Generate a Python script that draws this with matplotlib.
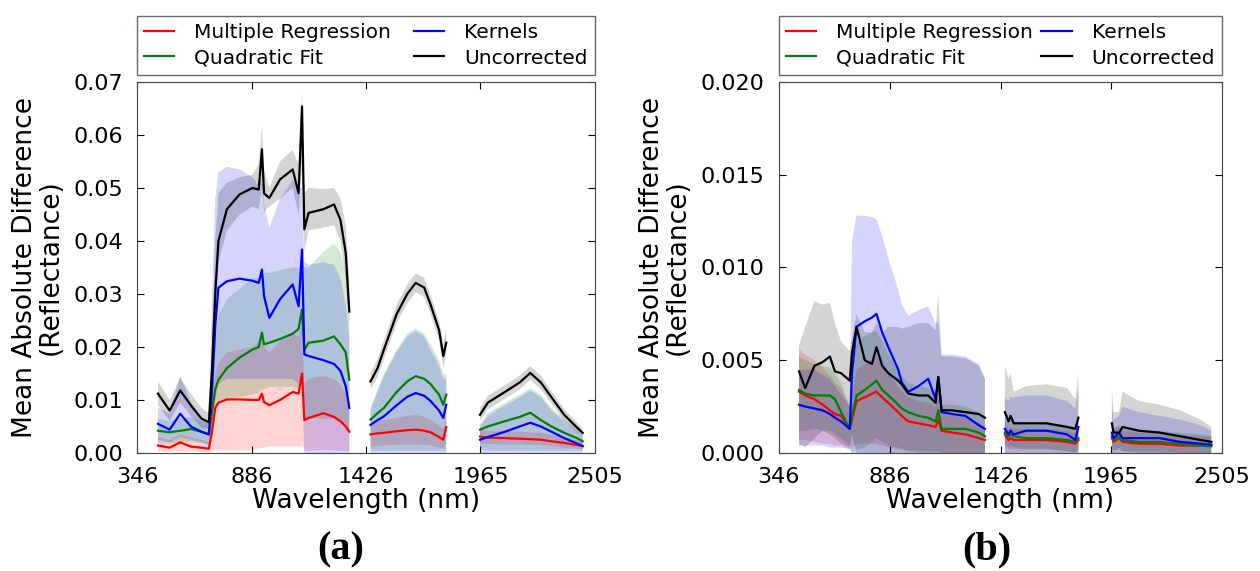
import numpy as np
import matplotlib
matplotlib.use('Agg')
from matplotlib import pyplot as plt

nan = np.nan

# ---------------- panel (a) data ----------------
wl_a = [445, 500, 550, 600, 650, 685, 700, 715, 730, 770, 830, 890, 920, 935, 945, 970, 1020, 1080, 1108, 1124,
        1135, 1155, 1225, 1275, 1305, 1330, 1347, 1400,
        1447, 1480, 1510, 1570, 1620, 1660, 1700, 1730, 1770, 1790, 1804, 1880,
        1963, 2000, 2080, 2150, 2200, 2250, 2300, 2360, 2420, 2447]

a_red = [0.0014, 0.0010, 0.0020, 0.0012, 0.0010, 0.0008, 0.0040, 0.0085, 0.0095, 0.0101, 0.0101, 0.0100, 0.0100, 0.0112,
         0.0096, 0.0090, 0.0100, 0.0115, 0.0112, 0.0150, 0.0062, 0.0066, 0.0075, 0.0068, 0.0060, 0.0050, 0.0040, nan,
         0.0035, 0.0037, 0.0038, 0.0041, 0.0043, 0.0044, 0.0042, 0.0039, 0.0030, 0.0025, 0.0049, nan,
         0.0031, 0.0029, 0.0028, 0.0027, 0.0026, 0.0025, 0.0022, 0.0019, 0.0015, 0.0013]
a_red_lo = [0.0002, 0.0002, 0.0003, 0.0002, 0.0002, 0.0001, 0.0005, 0.0005, 0.0005, 0.0005, 0.0005, 0.0005, 0.0008, 0.0010,
            0.0010, 0.0012, 0.0012, 0.0012, 0.0012, 0.0014, 0.0005, 0.0005, 0.0006, 0.0005, 0.0005, 0.0004, 0.0003, nan,
            0.0012, 0.0013, 0.0014, 0.0015, 0.0016, 0.0016, 0.0015, 0.0014, 0.0010, 0.0008, 0.0020, nan,
            0.0018, 0.0017, 0.0016, 0.0016, 0.0015, 0.0015, 0.0013, 0.0010, 0.0008, 0.0006]
a_red_hi = [0.0030, 0.0025, 0.0035, 0.0030, 0.0025, 0.0020, 0.0080, 0.0150, 0.0170, 0.0190, 0.0195, 0.0200, 0.0210, 0.0220,
            0.0200, 0.0190, 0.0210, 0.0225, 0.0220, 0.0240, 0.0130, 0.0140, 0.0145, 0.0140, 0.0130, 0.0110, 0.0090, nan,
            0.0055, 0.0060, 0.0062, 0.0066, 0.0070, 0.0072, 0.0068, 0.0063, 0.0052, 0.0045, 0.0070, nan,
            0.0044, 0.0042, 0.0041, 0.0040, 0.0039, 0.0038, 0.0034, 0.0030, 0.0024, 0.0021]

a_green = [0.0042, 0.0039, 0.0042, 0.0045, 0.0040, 0.0035, 0.0080, 0.0120, 0.0138, 0.0160, 0.0180, 0.0195, 0.0200, 0.0227,
           0.0205, 0.0208, 0.0215, 0.0225, 0.0234, 0.0271, 0.0195, 0.0208, 0.0212, 0.0220, 0.0205, 0.0190, 0.0138, nan,
           0.0063, 0.0075, 0.0085, 0.0115, 0.0135, 0.0145, 0.0140, 0.0130, 0.0110, 0.0091, 0.0110, nan,
           0.0044, 0.0050, 0.0060, 0.0068, 0.0076, 0.0062, 0.0050, 0.0038, 0.0028, 0.0022]
a_green_lo = [0.0020, 0.0018, 0.0020, 0.0022, 0.0018, 0.0015, 0.0030, 0.0080, 0.0100, 0.0100, 0.0105, 0.0110, 0.0115, 0.0120,
              0.0120, 0.0125, 0.0125, 0.0125, 0.0120, 0.0130, 0.0060, 0.0065, 0.0065, 0.0065, 0.0060, 0.0050, 0.0040, nan,
              0.0005, 0.0005, 0.0005, 0.0005, 0.0005, 0.0005, 0.0005, 0.0005, 0.0005, 0.0005, 0.0005, nan,
              0.0005, 0.0005, 0.0005, 0.0005, 0.0005, 0.0005, 0.0005, 0.0005, 0.0005, 0.0005]
a_green_hi = [0.0065, 0.0060, 0.0065, 0.0068, 0.0060, 0.0055, 0.0140, 0.0220, 0.0260, 0.0290, 0.0310, 0.0330, 0.0330, 0.0340,
              0.0340, 0.0340, 0.0345, 0.0350, 0.0350, 0.0360, 0.0350, 0.0350, 0.0380, 0.0395, 0.0380, 0.0340, 0.0270, nan,
              0.0085, 0.0120, 0.0150, 0.0195, 0.0225, 0.0235, 0.0225, 0.0205, 0.0175, 0.0150, 0.0148, nan,
              0.0055, 0.0075, 0.0095, 0.0110, 0.0122, 0.0110, 0.0085, 0.0065, 0.0045, 0.0035]

a_blue = [0.0055, 0.0044, 0.0074, 0.0050, 0.0040, 0.0035, 0.0120, 0.0240, 0.0312, 0.0324, 0.0329, 0.0325, 0.0321, 0.0346,
          0.0296, 0.0255, 0.0290, 0.0318, 0.0277, 0.0384, 0.0186, 0.0183, 0.0175, 0.0168, 0.0155, 0.0126, 0.0085, nan,
          0.0053, 0.0062, 0.0069, 0.0090, 0.0106, 0.0113, 0.0108, 0.0098, 0.0080, 0.0066, 0.0091, nan,
          0.0025, 0.0030, 0.0040, 0.0050, 0.0057, 0.0050, 0.0040, 0.0028, 0.0018, 0.0013]
a_blue_lo = [0.0025, 0.0020, 0.0030, 0.0025, 0.0020, 0.0015, 0.0050, 0.0100, 0.0130, 0.0140, 0.0140, 0.0140, 0.0140, 0.0140,
             0.0140, 0.0140, 0.0140, 0.0140, 0.0130, 0.0140, 0.0000, 0.0000, 0.0000, 0.0000, 0.0000, 0.0000, 0.0000, nan,
             0.0000, 0.0000, 0.0000, 0.0000, 0.0000, 0.0000, 0.0000, 0.0000, 0.0000, 0.0000, 0.0000, nan,
             0.0000, 0.0000, 0.0000, 0.0000, 0.0000, 0.0000, 0.0000, 0.0000, 0.0000, 0.0000]
a_blue_hi = [0.0085, 0.0075, 0.0145, 0.0095, 0.0065, 0.0055, 0.0300, 0.0480, 0.0530, 0.0540, 0.0535, 0.0520, 0.0505, 0.0510,
             0.0470, 0.0425, 0.0480, 0.0515, 0.0500, 0.0500, 0.0360, 0.0355, 0.0360, 0.0355, 0.0330, 0.0280, 0.0220, nan,
             0.0080, 0.0115, 0.0145, 0.0190, 0.0220, 0.0230, 0.0220, 0.0195, 0.0165, 0.0140, 0.0140, nan,
             0.0050, 0.0070, 0.0090, 0.0105, 0.0118, 0.0105, 0.0080, 0.0060, 0.0040, 0.0030]

a_black = [0.0112, 0.0080, 0.0118, 0.0090, 0.0065, 0.0058, 0.0160, 0.0300, 0.0400, 0.0460, 0.0488, 0.0500, 0.0497, 0.0573,
           0.0490, 0.0481, 0.0516, 0.0535, 0.0490, 0.0654, 0.0422, 0.0453, 0.0460, 0.0469, 0.0440, 0.0378, 0.0267, nan,
           0.0135, 0.0160, 0.0195, 0.0262, 0.0300, 0.0321, 0.0312, 0.0280, 0.0232, 0.0183, 0.0208, nan,
           0.0072, 0.0095, 0.0115, 0.0133, 0.0151, 0.0133, 0.0105, 0.0072, 0.0048, 0.0038]
a_black_lo = [0.0090, 0.0060, 0.0095, 0.0070, 0.0048, 0.0045, 0.0120, 0.0260, 0.0360, 0.0420, 0.0450, 0.0465, 0.0460, 0.0500,
              0.0455, 0.0465, 0.0480, 0.0500, 0.0450, 0.0550, 0.0380, 0.0420, 0.0425, 0.0430, 0.0400, 0.0330, 0.0240, nan,
              0.0120, 0.0143, 0.0177, 0.0244, 0.0282, 0.0303, 0.0294, 0.0262, 0.0214, 0.0160, 0.0185, nan,
              0.0060, 0.0082, 0.0102, 0.0120, 0.0138, 0.0120, 0.0093, 0.0061, 0.0038, 0.0030]
a_black_hi = [0.0135, 0.0100, 0.0142, 0.0112, 0.0085, 0.0075, 0.0200, 0.0400, 0.0490, 0.0510, 0.0520, 0.0525, 0.0545, 0.0620,
              0.0535, 0.0500, 0.0550, 0.0572, 0.0545, 0.0680, 0.0490, 0.0500, 0.0498, 0.0500, 0.0480, 0.0430, 0.0330, nan,
              0.0150, 0.0178, 0.0213, 0.0280, 0.0318, 0.0339, 0.0330, 0.0298, 0.0250, 0.0206, 0.0235, nan,
              0.0085, 0.0108, 0.0128, 0.0146, 0.0164, 0.0146, 0.0117, 0.0083, 0.0058, 0.0046]

# ---------------- panel (b) data ----------------
wl_b = [445, 475, 520, 560, 595, 620, 650, 692, 703, 725, 765, 800, 822, 850, 880, 928, 945, 977, 1026, 1074, 1110, 1123,
        1139, 1190, 1255, 1320, 1350, 1400,
        1447, 1465, 1475, 1490, 1550, 1650, 1750, 1790, 1805, 1880,
        1968, 1976, 2003, 2020, 2100, 2200, 2300, 2400, 2452]

b_red = [0.0033, 0.0031, 0.0029, 0.0026, 0.0023, 0.0021, 0.0020, 0.0013, 0.0018, 0.0028, 0.0030, 0.0032, 0.0033, 0.0030,
         0.0027, 0.0022, 0.0020, 0.0017, 0.0016, 0.0015, 0.0014, 0.0018, 0.0012, 0.0011, 0.0010, 0.0008, 0.0007, nan,
         0.0010, 0.0007, 0.0008, 0.0007, 0.0007, 0.0007, 0.0006, 0.0005, 0.0007, nan,
         0.0008, 0.0006, 0.0008, 0.0006, 0.0005, 0.0005, 0.0004, 0.0004, 0.0004]
b_red_lo = [0.0007, 0.0007, 0.0006, 0.0005, 0.0005, 0.0004, 0.0004, 0.0002, 0.0003, 0.0005, 0.0005, 0.0005, 0.0005, 0.0004,
            0.0003, 0.0002, 0.0002, 0.0001, 0.0001, 0.0001, 0.0001, 0.0001, 0.0000, 0.0000, 0.0000, 0.0000, 0.0000, nan,
            0.0004, 0.0002, 0.0002, 0.0002, 0.0002, 0.0002, 0.0001, 0.0000, 0.0002, nan,
            0.0003, 0.0001, 0.0002, 0.0001, 0.0001, 0.0001, 0.0000, 0.0000, 0.0000]
b_red_hi = [0.0056, 0.0053, 0.0050, 0.0046, 0.0042, 0.0038, 0.0035, 0.0025, 0.0030, 0.0045, 0.0048, 0.0050, 0.0052, 0.0048,
            0.0043, 0.0036, 0.0033, 0.0030, 0.0028, 0.0027, 0.0025, 0.0030, 0.0021, 0.0020, 0.0019, 0.0016, 0.0014, nan,
            0.0016, 0.0013, 0.0014, 0.0013, 0.0013, 0.0013, 0.0012, 0.0011, 0.0013, nan,
            0.0014, 0.0012, 0.0014, 0.0012, 0.0011, 0.0011, 0.0010, 0.0009, 0.0009]

b_green = [0.0034, 0.0032, 0.0031, 0.0031, 0.0031, 0.0029, 0.0022, 0.0013, 0.0020, 0.0031, 0.0034, 0.0037, 0.0039, 0.0034,
           0.0031, 0.0026, 0.0024, 0.0022, 0.0020, 0.0019, 0.0017, 0.0023, 0.0013, 0.0013, 0.0013, 0.0011, 0.0009, nan,
           0.0011, 0.0009, 0.0010, 0.0009, 0.0008, 0.0008, 0.0007, 0.0006, 0.0008, nan,
           0.0009, 0.0007, 0.0009, 0.0007, 0.0006, 0.0006, 0.0005, 0.0004, 0.00036]
b_green_lo = [0.0012, 0.0012, 0.0013, 0.0012, 0.0012, 0.0010, 0.0008, 0.0004, 0.0000, 0.0002, 0.0003, 0.0006, 0.0008, 0.0006,
              0.0004, 0.0003, 0.0002, 0.0001, 0.0000, 0.0000, 0.0000, 0.0000, 0.0000, 0.0000, 0.0000, 0.0000, 0.0000, nan,
              0.0005, 0.0003, 0.0004, 0.0003, 0.0002, 0.0002, 0.0001, 0.0000, 0.0002, nan,
              0.0003, 0.0001, 0.0003, 0.0001, 0.0000, 0.0000, 0.0000, 0.0000, 0.0000]
b_green_hi = [0.0052, 0.0050, 0.0048, 0.0047, 0.0046, 0.0043, 0.0038, 0.0025, 0.0040, 0.0060, 0.0063, 0.0065, 0.0066, 0.0060,
              0.0053, 0.0045, 0.0042, 0.0038, 0.0036, 0.0035, 0.0032, 0.0038, 0.0026, 0.0026, 0.0025, 0.0022, 0.0018, nan,
              0.0019, 0.0017, 0.0018, 0.0017, 0.0016, 0.0016, 0.0015, 0.0014, 0.0016, nan,
              0.0015, 0.0013, 0.0015, 0.0013, 0.0012, 0.0012, 0.0011, 0.0010, 0.0009]

b_blue = [0.0026, 0.0025, 0.0024, 0.0023, 0.0021, 0.0019, 0.0017, 0.0013, 0.0043, 0.0068, 0.0071, 0.0073, 0.0075, 0.0065,
          0.0057, 0.0045, 0.0038, 0.0033, 0.0036, 0.0040, 0.0029, 0.0041, 0.0022, 0.0021, 0.0020, 0.0015, 0.0013, nan,
          0.0013, 0.0010, 0.0012, 0.0010, 0.0012, 0.0012, 0.0010, 0.0007, 0.0014, nan,
          0.0011, 0.0008, 0.0011, 0.0008, 0.0008, 0.0008, 0.0006, 0.0005, 0.00045]
b_blue_lo = [0.0004, 0.0004, 0.0004, 0.0004, 0.0003, 0.0003, 0.0003, 0.0002, 0.0000, 0.0000, 0.0000, 0.0000, 0.0000, 0.0000,
             0.0000, 0.0000, 0.0000, 0.0000, 0.0000, 0.0000, 0.0000, 0.0000, 0.0000, 0.0000, 0.0000, 0.0000, 0.0000, nan,
             0.0000, 0.0000, 0.0000, 0.0000, 0.0000, 0.0000, 0.0000, 0.0000, 0.0000, nan,
             0.0000, 0.0000, 0.0000, 0.0000, 0.0000, 0.0000, 0.0000, 0.0000, 0.0000]
b_blue_hi = [0.0045, 0.0045, 0.0045, 0.0042, 0.0040, 0.0036, 0.0032, 0.0025, 0.0115, 0.0128, 0.0128, 0.0127, 0.0126, 0.0117,
             0.0105, 0.0088, 0.0080, 0.0074, 0.0077, 0.0079, 0.0070, 0.0070, 0.0053, 0.0053, 0.0052, 0.0048, 0.0040, nan,
             0.0030, 0.0028, 0.0030, 0.0030, 0.0031, 0.0031, 0.0028, 0.0024, 0.0035, nan,
             0.0026, 0.0018, 0.0020, 0.0025, 0.0022, 0.0020, 0.0018, 0.0015, 0.0012]

b_black = [0.0044, 0.0035, 0.0047, 0.0049, 0.0052, 0.0044, 0.0043, 0.0039, 0.0054, 0.0068, 0.0050, 0.0048, 0.0057, 0.0047,
           0.0043, 0.0039, 0.0037, 0.0032, 0.0031, 0.0031, 0.0027, 0.0041, 0.0023, 0.0023, 0.0022, 0.0021, 0.0019, nan,
           0.0022, 0.0017, 0.0020, 0.0016, 0.0016, 0.0016, 0.0014, 0.0013, 0.0019, nan,
           0.0016, 0.0011, 0.0011, 0.0014, 0.0012, 0.0011, 0.0009, 0.0007, 0.0006]
b_black_lo = [0.0005, 0.0003, 0.0008, 0.0012, 0.0010, 0.0008, 0.0005, 0.0003, 0.0010, 0.0000, 0.0000, 0.0000, 0.0000, 0.0000,
              0.0000, 0.0000, 0.0000, 0.0000, 0.0000, 0.0000, 0.0000, 0.0000, 0.0000, 0.0000, 0.0000, 0.0000, 0.0000, nan,
              0.0000, 0.0000, 0.0000, 0.0000, 0.0000, 0.0000, 0.0000, 0.0000, 0.0000, nan,
              0.0000, 0.0000, 0.0000, 0.0000, 0.0000, 0.0000, 0.0000, 0.0000, 0.0000]
b_black_hi = [0.0058, 0.0068, 0.0082, 0.0080, 0.0081, 0.0070, 0.0060, 0.0055, 0.0062, 0.0075, 0.0065, 0.0065, 0.0070, 0.0065,
              0.0068, 0.0068, 0.0067, 0.0068, 0.0070, 0.0070, 0.0066, 0.0086, 0.0052, 0.0052, 0.0051, 0.0047, 0.0040, nan,
              0.0047, 0.0040, 0.0043, 0.0033, 0.0036, 0.0037, 0.0035, 0.0029, 0.0043, nan,
              0.0035, 0.0022, 0.0022, 0.0033, 0.0028, 0.0026, 0.0023, 0.0018, 0.0014]

labels = ['Multiple Regression', 'Quadratic Fit', 'Kernels', 'Uncorrected']
colors = ['red', 'green', 'blue', 'black']
xticks = [346, 886, 1426, 1965, 2505]

panels = [
    (wl_a, [(a_red, a_red_lo, a_red_hi), (a_green, a_green_lo, a_green_hi),
            (a_blue, a_blue_lo, a_blue_hi), (a_black, a_black_lo, a_black_hi)],
     np.arange(0, 0.071, 0.01), '%.2f', 0.07, '(a)'),
    (wl_b, [(b_red, b_red_lo, b_red_hi), (b_green, b_green_lo, b_green_hi),
            (b_blue, b_blue_lo, b_blue_hi), (b_black, b_black_lo, b_black_hi)],
     np.arange(0, 0.0201, 0.005), '%.3f', 0.02, '(b)'),
]

fig = plt.figure(figsize=(12.6, 5.71), dpi=100)
lefts = [0.1087, 0.618]
widths = [0.3635, 0.352]
tag_x = [341 / 1260, 987 / 1260]

for k, (wl, series, yt, fmt, ymax, tag) in enumerate(panels):
    ax = fig.add_axes([lefts[k], 0.2067, widths[k], 0.6497])
    wl = np.array(wl, dtype=float)

    # shaded bands first, then the mean lines
    for (m, lo, hi), c in zip(series, colors):
        ax.fill_between(wl, np.array(lo, dtype=float), np.array(hi, dtype=float),
                        color=c, alpha=0.17, linewidth=0)
    for (m, lo, hi), c, lab in zip(series, colors, labels):
        ax.plot(wl, np.array(m, dtype=float), color=c, lw=1.6, label=lab)

    ax.set_xlim(346, 2505)
    ax.set_ylim(0, ymax)
    ax.set_xticks(xticks)
    ax.set_xticklabels([str(t) for t in xticks])
    ax.set_yticks(yt)
    ax.set_yticklabels([fmt % v for v in yt])
    ax.tick_params(direction='in', top=True, right=True, labelsize=16, length=5, pad=10)
    for s in ax.spines.values():
        s.set_color('#444444')
    ax.set_xlabel('Wavelength (nm)', fontsize=19, labelpad=1)
    ax.set_ylabel('Mean Absolute Difference\n(Reflectance)', fontsize=19, labelpad=7, linespacing=1.0)
    leg = ax.legend(loc='lower left', bbox_to_anchor=(0, 1.02, 1, 0.17), mode='expand', ncol=2,
                    fontsize=14.5, frameon=True, fancybox=False, borderaxespad=0, handlelength=1.5,
                    handletextpad=1.0, columnspacing=0.3, labelspacing=0.3, borderpad=0.35)
    leg.get_frame().set_edgecolor('#444444')
    fig.text(tag_x[k], 0.037, tag, ha='center', va='center', fontsize=29,
             fontweight='bold', family='Liberation Serif')

fig.savefig('out.png', dpi=100)
